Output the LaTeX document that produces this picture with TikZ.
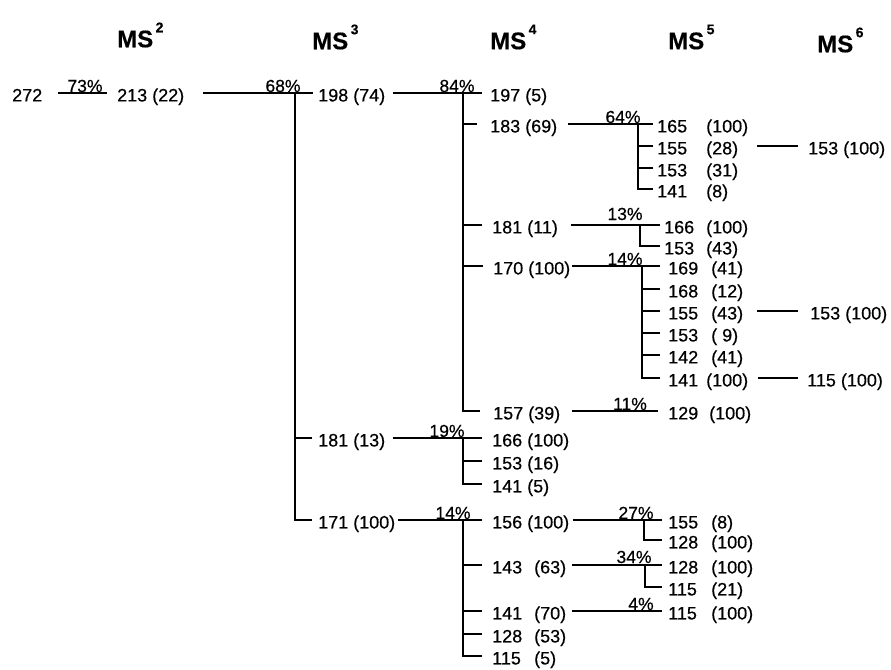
\documentclass[tikz,border=0pt]{standalone}
\usepackage{fontspec}
\setmainfont{Liberation Sans}[FakeBold=0.5]
\newcommand\nb[3]{\makebox[#1][l]{#2}#3}
\newcommand\hd[1]{MS\hspace{2.5pt}\raisebox{15pt}{\fontsize{14}{14}\selectfont #1}}
\begin{document}
\begin{tikzpicture}[x=1pt,y=-1pt,
  lbl/.style={anchor=west, inner sep=0pt, text height=12.9pt, text depth=0pt, font=\fontsize{18}{18}\selectfont},
  pct/.style={anchor=base, inner sep=0pt, font=\fontsize{17.5}{17.5}\selectfont},
  hdr/.style={anchor=west, inner sep=0pt, font=\fontsize{24}{24}\selectfont\bfseries},
  ln/.style={line width=1.2pt},
  thk/.style={line width=2pt},
  vln/.style={line width=1.1pt}]
\useasboundingbox (0,0) rectangle (891,669);

% headers
\node[hdr] (h2) at (117,35) {\hd{2}};
\node[hdr] (h3) at (312,37) {\hd{3}};
\node[hdr] (h4) at (490,37) {\hd{4}};
\node[hdr] (h5) at (668,37) {\hd{5}};
\node[hdr] (h6) at (817,40) {\hd{6}};

% ions
\node[lbl] (n272) at (12,95) {272};
\node[lbl] (n213) at (117,95) {213 (22)};
\node[lbl] (n198) at (318,95) {198 (74)};
\node[lbl] (n197) at (490,95) {197 (5)};
\node[lbl] (n183) at (490,126) {183 (69)};
\node[lbl] (n165) at (657,126) {\nb{49pt}{165}{(100)}};
\node[lbl] (n155a) at (657,148) {\nb{49pt}{155}{(28)}};
\node[lbl] (n153t) at (808,148) {153 (100)};
\node[lbl] (n153a) at (657,170) {\nb{49pt}{153}{(31)}};
\node[lbl] (n141a) at (657,191) {\nb{49pt}{141}{(8)}};
\node[lbl] (n181a) at (492,227) {181 (11)};
\node[lbl] (n166a) at (664,227) {\nb{42pt}{166}{(100)}};
\node[lbl] (n153b) at (664,248) {\nb{42pt}{153}{(43)}};
\node[lbl] (n170) at (493,268) {170 (100)};
\node[lbl] (n169) at (668,268) {\nb{43pt}{169}{(41)}};
\node[lbl] (n168) at (668,291) {\nb{43pt}{168}{(12)}};
\node[lbl] (n155b) at (668,313) {\nb{43pt}{155}{(43)}};
\node[lbl] (n153m) at (810,313) {153 (100)};
\node[lbl] (n153c) at (668,335) {\nb{43pt}{153}{(\hspace{5pt}9)}};
\node[lbl] (n142) at (668,357) {\nb{43pt}{142}{(41)}};
\node[lbl] (n141b) at (668,380) {\nb{38pt}{141}{(100)}};
\node[lbl] (n115t) at (807,380) {115 (100)};
\node[lbl] (n157) at (493,413) {157 (39)};
\node[lbl] (n129) at (668,413) {\nb{41pt}{129}{(100)}};
\node[lbl] (n181b) at (318,440) {181 (13)};
\node[lbl] (n166b) at (492,440) {166 (100)};
\node[lbl] (n153d) at (492,463) {153 (16)};
\node[lbl] (n141d) at (492,486) {141 (5)};
\node[lbl] (n171) at (318,522) {171 (100)};
\node[lbl] (n156) at (492,522) {156 (100)};
\node[lbl] (n155c) at (668,522) {\nb{43pt}{155}{(8)}};
\node[lbl] (n128a) at (668,542) {\nb{43pt}{128}{(100)}};
\node[lbl] (n143) at (492,567) {\nb{42pt}{143}{(63)}};
\node[lbl] (n128b) at (668,567) {\nb{43pt}{128}{(100)}};
\node[lbl] (n115a) at (668,589) {\nb{43pt}{115}{(21)}};
\node[lbl] (n141e) at (492,613) {\nb{42pt}{141}{(70)}};
\node[lbl] (n115b) at (668,613) {\nb{43pt}{115}{(100)}};
\node[lbl] (n128c) at (492,636) {\nb{42pt}{128}{(53)}};
\node[lbl] (n115c) at (492,658) {\nb{42pt}{115}{(5)}};

% 73%
\draw[ln] ([xshift=16pt,yshift=2pt]n272.east) -- ([xshift=-10pt,yshift=2pt]n213.west);
\node[pct] (p73) at (85,92) {73\%};

% 68%
\draw[thk] ([xshift=19pt,yshift=2pt]n213.east) -- ([xshift=-5pt,yshift=2pt]n198.west);
\coordinate (v2) at (295,93);
\draw[vln] ([xshift=-6pt,yshift=2pt]n181b.west) -| (v2);
\draw[vln] ([xshift=-6pt,yshift=2pt]n171.west) -| (v2);
\node[pct] (p68) at (283,92) {68\%};

% 84%
\draw[ln] ([xshift=8pt,yshift=2pt]n198.east) -- ([xshift=-8pt,yshift=2pt]n197.west);
\coordinate (v3) at (463,93);
\draw[vln] ([xshift=-13pt,yshift=2pt]n183.west) -| (v3);
\draw[vln] ([xshift=-10pt,yshift=2pt]n181a.west) -| (v3);
\draw[vln] ([xshift=-10pt,yshift=2pt]n170.west) -| (v3);
\draw[vln] ([xshift=-13pt,yshift=2pt]n157.west) -| (v3);
\node[pct] (p84) at (457,92) {84\%};

% 64%
\draw[ln] ([xshift=11pt,yshift=2pt]n183.east) -- ([xshift=-4pt,yshift=2pt]n165.west);
\coordinate (v4a) at (638,124);
\draw[vln] ([xshift=-4pt,yshift=2pt]n155a.west) -| (v4a);
\draw[vln] ([xshift=-4pt,yshift=2pt]n153a.west) -| (v4a);
\draw[vln] ([xshift=-4pt,yshift=2pt]n141a.west) -| (v4a);
\node[pct] (p64) at (623,123) {64\%};
\draw[thk] ([xshift=19pt,yshift=2pt]n155a.east) -- ([xshift=-10pt,yshift=2pt]n153t.west);

% 13%
\draw[ln] ([xshift=13pt,yshift=2pt]n181a.east) -- ([xshift=-4pt,yshift=2pt]n166a.west);
\coordinate (v4b) at (640,225);
\draw[vln] ([xshift=-4pt,yshift=2pt]n153b.west) -| (v4b);
\node[pct] (p13) at (625,220) {13\%};

% 14% (170)
\draw[ln] ([xshift=2pt,yshift=2pt]n170.east) -- ([xshift=-8pt,yshift=2pt]n169.west);
\coordinate (v4c) at (642,266);
\draw[vln] ([xshift=-8pt,yshift=2pt]n168.west) -| (v4c);
\draw[vln] ([xshift=-8pt,yshift=2pt]n155b.west) -| (v4c);
\draw[vln] ([xshift=-8pt,yshift=2pt]n153c.west) -| (v4c);
\draw[vln] ([xshift=-8pt,yshift=2pt]n142.west) -| (v4c);
\draw[vln] ([xshift=-8pt,yshift=2pt]n141b.west) -| (v4c);
\node[pct] (p14a) at (625,265) {14\%};
\draw[ln] ([xshift=14pt,yshift=2pt]n155b.east) -- ([xshift=-12pt,yshift=2pt]n153m.west);
\draw[ln] ([xshift=10pt,yshift=2pt]n141b.east) -- ([xshift=-9pt,yshift=2pt]n115t.west);

% 11%
\draw[thk] ([xshift=12pt,yshift=2pt]n157.east) -- ([xshift=-10pt,yshift=2pt]n129.west);
\node[pct] (p11) at (630,410) {11\%};

% 19%
\draw[thk] ([xshift=8pt,yshift=2pt]n181b.east) -- ([xshift=-10pt,yshift=2pt]n166b.west);
\coordinate (v3b) at (463,438);
\draw[vln] ([xshift=-10pt,yshift=2pt]n153d.west) -| (v3b);
\draw[vln] ([xshift=-10pt,yshift=2pt]n141d.west) -| (v3b);
\node[pct] (p19) at (447,437) {19\%};

% 14% (171)
\draw[ln] ([xshift=3pt,yshift=2pt]n171.east) -- ([xshift=-10pt,yshift=2pt]n156.west);
\coordinate (v3c) at (463,520);
\draw[vln] ([xshift=-10pt,yshift=2pt]n143.west) -| (v3c);
\draw[vln] ([xshift=-10pt,yshift=2pt]n141e.west) -| (v3c);
\draw[vln] ([xshift=-10pt,yshift=2pt]n128c.west) -| (v3c);
\draw[vln] ([xshift=-10pt,yshift=2pt]n115c.west) -| (v3c);
\node[pct] (p14b) at (453,519) {14\%};

% 27%
\draw[ln] ([xshift=4pt,yshift=2pt]n156.east) -- ([xshift=-6pt,yshift=2pt]n155c.west);
\coordinate (v5a) at (644,520);
\draw[vln] ([xshift=-6pt,yshift=2pt]n128a.west) -| (v5a);
\node[pct] (p27) at (636,519) {27\%};

% 34%
\draw[thk] ([xshift=6pt,yshift=2pt]n143.east) -- ([xshift=-6pt,yshift=2pt]n128b.west);
\coordinate (v5b) at (645,565);
\draw[vln] ([xshift=-6pt,yshift=2pt]n115a.west) -| (v5b);
\node[pct] (p34) at (634,563) {34\%};

% 4%
\draw[thk] ([xshift=6pt,yshift=2pt]n141e.east) -- ([xshift=-6pt,yshift=2pt]n115b.west);
\node[pct] (p4) at (641,610) {4\%};
\end{tikzpicture}
\end{document}
